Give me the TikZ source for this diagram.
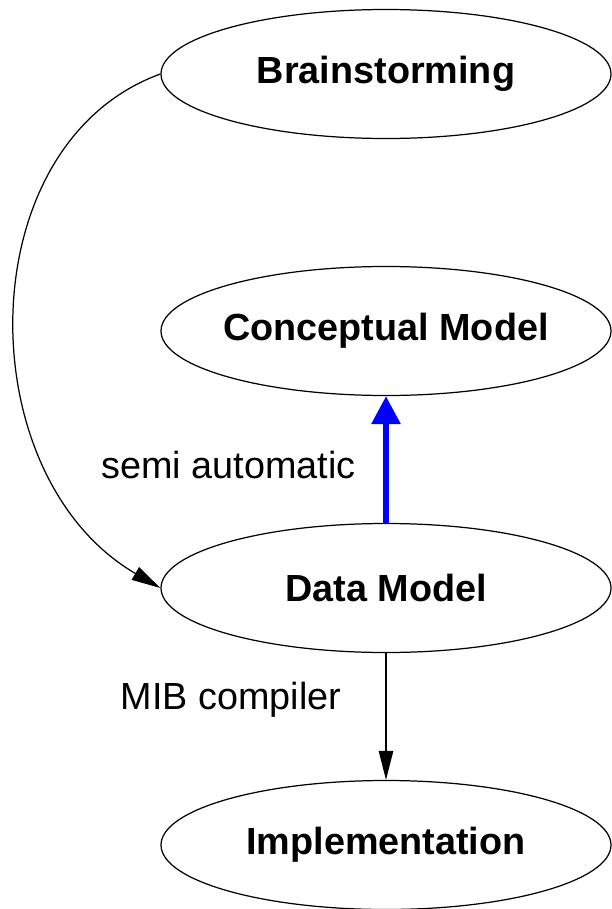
\documentclass[tikz,border=0pt]{standalone}
\usepackage{fontspec}
\setmainfont{Liberation Sans}
\usetikzlibrary{positioning}
\usetikzlibrary{shapes.geometric}
\usetikzlibrary{arrows.meta}

\begin{document}
\begin{tikzpicture}[
  font=\fontsize{21.5}{26}\selectfont,
  stage/.style={draw, ellipse, inner xsep=-0.1cm, inner ysep=0pt, line width=0.7pt, minimum width=9cm, minimum height=2.58cm, font=\fontsize{21.5}{26}\selectfont\bfseries},
  arrow/.style={-{Triangle[length=0.58cm, width=0.29cm]}, line width=0.7pt},
  bluearrow/.style={-{Triangle[length=0.56cm, width=0.56cm]}, blue, line width=3.4pt}
]

% Page frame
\useasboundingbox (0,0) rectangle (12.24,-18.18);

% Stages
\node[stage] (brain)   at (7.72,-1.48)  {Brainstorming};
\node[stage] (concept) at (7.72,-6.62)  {Conceptual Model};
\node[stage] (data)    at (7.72,-11.76) {Data Model};
\node[stage] (impl)    at (7.72,-16.9)  {Implementation};

% Transitions
\draw[bluearrow] (data.north) -- (concept.south);
\draw[arrow] (data.south) -- (impl.north);
\draw[arrow] (brain.west) .. controls +(-3.85,-1.4) and +(-3.85,2.24) .. (data.west);

% Labels
\node (semi) at (4.57,-9.3)  {semi automatic};
\node (mib)  at (4.62,-14.0) {MIB compiler};

\end{tikzpicture}
\end{document}
